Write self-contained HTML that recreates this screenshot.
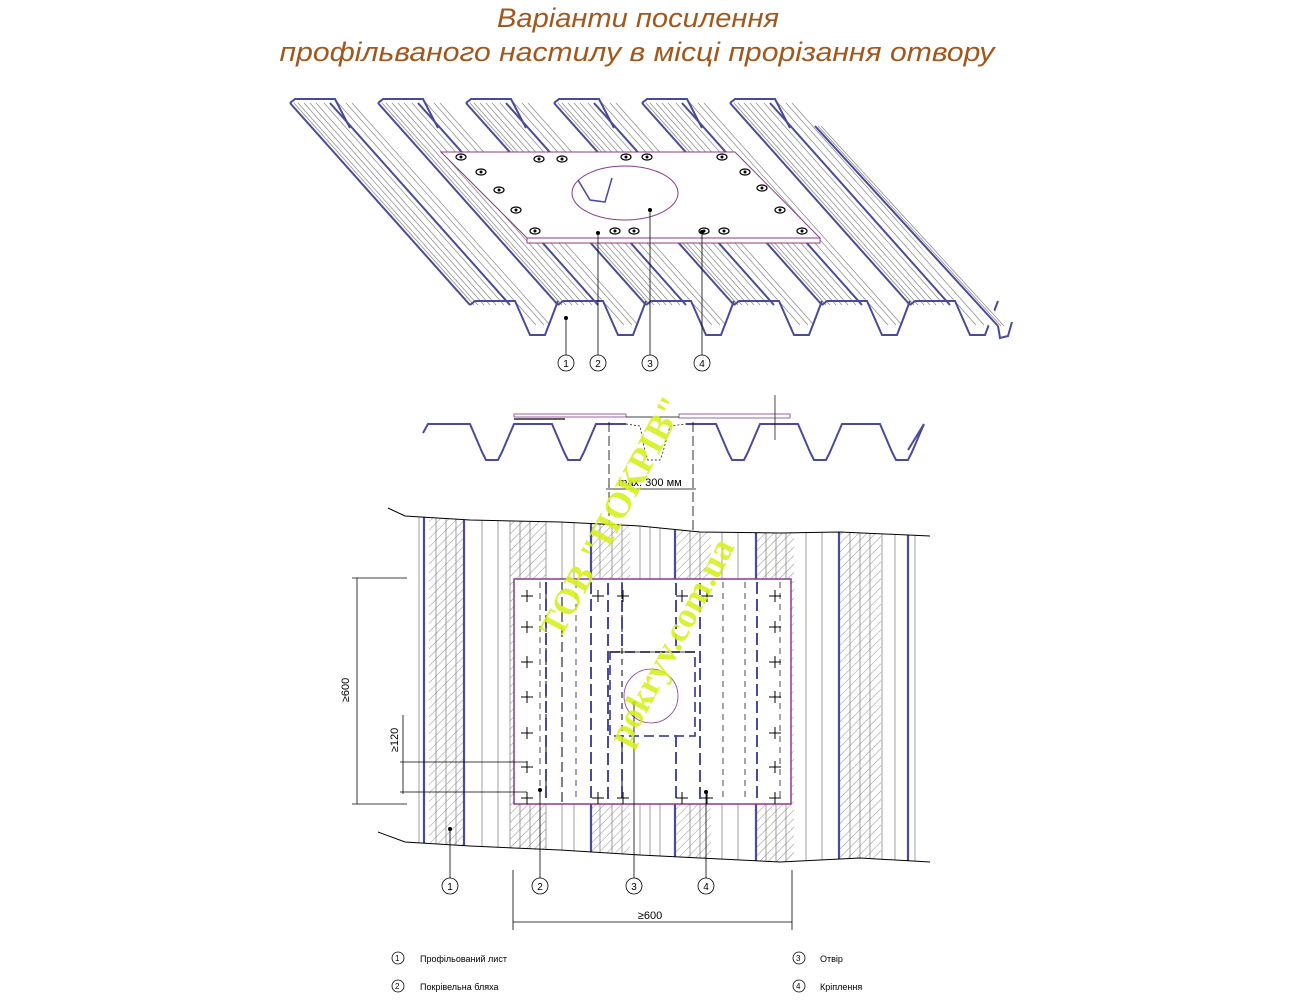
<!DOCTYPE html>
<html><head><meta charset="utf-8"><style>
html,body{margin:0;padding:0;background:#fff;}
svg{display:block;}
.t{font-family:"Liberation Sans",sans-serif;}
</style></head><body>
<svg id="s" width="1302" height="1006" viewBox="0 0 1302 1006" xmlns="http://www.w3.org/2000/svg">
<defs>
<pattern id="h" width="6" height="6" patternUnits="userSpaceOnUse" patternTransform="rotate(45)">
<line x1="0" y1="0" x2="0" y2="6" stroke="#777" stroke-width="0.8"/>
</pattern>
</defs>
<text class="t" x="638" y="27" font-size="27" fill="#a0581e" text-anchor="middle" font-style="italic" textLength="282" lengthAdjust="spacingAndGlyphs">Варіанти посилення</text>
<text class="t" x="637" y="61" font-size="27" fill="#a0581e" text-anchor="middle" font-style="italic" textLength="715" lengthAdjust="spacingAndGlyphs">профільваного настилу в місці прорізання отвору</text>
<g id="iso"></g>
<g id="sec"></g>
<g id="plan"></g>
<g class="t" font-size="11" fill="#000" text-anchor="middle">
<text x="650" y="486" font-size="11">max. 300 мм</text>
<text x="650" y="919">≥600</text>
<text transform="translate(349,690) rotate(-90)">≥600</text>
<text transform="translate(398,740) rotate(-90)">≥120</text>
</g>
<g class="t" font-size="9" fill="#000">
<circle cx="398" cy="958" r="6" fill="none" stroke="#000" stroke-width="0.8"/><text x="395" y="961" font-size="8">1</text>
<text x="420" y="962">Профільований лист</text>
<circle cx="398" cy="986" r="6" fill="none" stroke="#000" stroke-width="0.8"/><text x="395" y="989" font-size="8">2</text>
<text x="420" y="990">Покрівельна бляха</text>
<circle cx="799" cy="958" r="6" fill="none" stroke="#000" stroke-width="0.8"/><text x="796" y="961" font-size="8">3</text>
<text x="820" y="962">Отвір</text>
<circle cx="799" cy="986" r="6" fill="none" stroke="#000" stroke-width="0.8"/><text x="796" y="989" font-size="8">4</text>
<text x="820" y="990">Кріплення</text>
</g>
<g id="callouts" class="t" font-size="10" text-anchor="middle"></g>
<g font-family="Liberation Serif,serif" font-size="36" font-weight="bold" fill="#d8f020" opacity="0.9">
<text transform="translate(560,640) rotate(-62)">ТОВ "ПОКРІВ"</text>
<text transform="translate(628,748) rotate(-62)">pokryv.com.ua</text>
</g>
</svg>
<script>
(function(){
const NS="http://www.w3.org/2000/svg";
function el(p,t,a){const e=document.createElementNS(NS,t);for(const k in a)e.setAttribute(k,a[k]);p.appendChild(e);return e;}
const B="#4a4a9a",P="#8a3a8a";
const iso=document.getElementById('iso');
for(let i=5;i>=0;i--){
 const x0=290+88*i, y0=103, dx=180, dy=202;
 const offs=[0,4,8,14,20,26,34,40,48,56,62];
 el(iso,'polygon',{points:`${x0},${y0} ${x0+62},${y0} ${x0+62+dx+40},${y0+dy+33} ${x0+dx},${y0+dy}`,fill:'#fff'});
 offs.forEach((o,j)=>{
  el(iso,'line',{x1:x0+o,y1:y0,x2:x0+o+dx+(o>40?18:0),y2:y0+dy+(o>40?20:0),stroke:(j==0||j==7)?B:'#888','stroke-width':(j==0||j==7)?2:0.7});
 });
 const ex=x0+dx, ey=y0+dy;
 el(iso,'polyline',{points:`${ex},${ey} ${ex+5},${ey-4} ${ex+45},${ey-4} ${ex+60},${ey+30} ${ex+75},${ey+30} ${ex+88},${ey-4}`,fill:'none',stroke:B,'stroke-width':2});
 el(iso,'polyline',{points:`${x0},${y0} ${x0+5},${y0-4} ${x0+45},${y0-4} ${x0+60},${y0+25}`,fill:'none',stroke:B,'stroke-width':2});
}
el(iso,'polygon',{points:"815,126 824,126 1012,330 1006,340 998,336",fill:'#fff'});
[0,3,6].forEach((o,j)=>el(iso,'line',{x1:815+o,y1:126,x2:998+o,y2:326,stroke:j==0?B:'#888','stroke-width':j==0?2:0.7}));
el(iso,'polyline',{points:"998,326 1000,338 1008,336 1012,322",fill:'none',stroke:B,'stroke-width':2});
el(iso,'polygon',{points:"441,152 735,152 820,238 527,238",fill:'#fff',stroke:P,'stroke-width':1});
el(iso,'polygon',{points:"527,238 820,238 820,243 527,243",fill:'#fff',stroke:P,'stroke-width':1});
el(iso,'ellipse',{cx:625,cy:193,rx:53,ry:27,fill:'#fff',stroke:P,'stroke-width':1});
el(iso,'polyline',{points:"578,180 590,200 605,202 612,178",fill:'none',stroke:B,'stroke-width':1.5});
[[461,157],[539,159],[562,159],[626,157],[647,157],[722,157],[481,172],[745,172],[499,190],[762,188],[516,210],[780,210],[535,231],[615,231],[634,231],[704,231],[724,231],[802,231]].forEach(p=>{
 el(iso,'ellipse',{cx:p[0],cy:p[1],rx:5,ry:3,fill:'#fff',stroke:'#000','stroke-width':1.2});
 el(iso,'circle',{cx:p[0],cy:p[1],r:1.5,fill:'#000'});
});
const sec=document.getElementById('sec');
let pts="423,433 428,424 ";
for(let k=0;k<6;k++){const c=450+82*k;pts+=`${c+12},424 ${c+20},424 ${c+32},452 ${c+36},460 ${c+48},460 ${c+52},452 ${c+64},424 `;}
pts+="908,450";
el(sec,'polyline',{points:pts,fill:'none',stroke:B,'stroke-width':2});
el(sec,'rect',{x:626,y:420,width:60,height:42,fill:'#fff'});
el(sec,'polyline',{points:"626,424 640,426 645,452 648,460 660,460 663,452 670,426 686,424",fill:'none',stroke:'#000','stroke-width':0.7,'stroke-dasharray':'2 2'});
el(sec,'rect',{x:514,y:414,width:112,height:3,fill:'#fff',stroke:P,'stroke-width':0.8});
el(sec,'line',{x1:514,y1:419,x2:565,y2:419,stroke:'#000','stroke-width':1.2});
el(sec,'rect',{x:679,y:414,width:111,height:4,fill:'#fff',stroke:P,'stroke-width':0.8});
el(sec,'line',{x1:626,y1:417,x2:679,y2:417,stroke:'#000','stroke-width':0.7});
el(sec,'line',{x1:775,y1:395,x2:775,y2:440,stroke:'#000','stroke-width':0.7});
[609,693].forEach(x=>el(sec,'line',{x1:x,y1:422,x2:x,y2:580,stroke:'#000','stroke-width':0.8,'stroke-dasharray':'10 4'}));
el(sec,'line',{x1:606,y1:489,x2:696,y2:489,stroke:'#000','stroke-width':0.8});
const pl=document.getElementById('plan');
const shape="M405,516 L470,520 L560,522 L640,526 L700,532 L780,533 L840,532 L930,536 L930,862 L860,858 L780,862 L700,858 L640,855 L560,850 L470,846 L405,842 Z";
el(pl,'path',{d:shape,fill:'#fff'});
const cp=el(pl,'clipPath',{id:'cp'});
el(cp,'path',{d:shape});
const g=el(pl,'g',{'clip-path':'url(#cp)'});
[[429,464],[510,546],[591,630],[675,711],[756,794],[839,881]].forEach(h=>el(g,'rect',{x:h[0],y:500,width:h[1]-h[0],height:380,fill:'url(#h)'}));
[424,464,591,675,756,839,908].forEach(x=>el(g,'line',{x1:x,y1:500,x2:x,y2:880,stroke:B,'stroke-width':2.2}));
[419,436,446,456,482,498,510,520,530,546,562,574,600,612,622,640,650,660,690,700,722,738,766,776,786,806,822,850,860,870,882,895,915].forEach(x=>el(g,'line',{x1:x,y1:500,x2:x,y2:880,stroke:'#777','stroke-width':0.7}));
el(pl,'path',{d:"M388,508 L405,516 L470,520 L560,522 L640,526 L700,532 L780,533 L840,532 L930,536",fill:'none',stroke:'#000','stroke-width':1});
el(pl,'path',{d:"M378,832 L405,842 L470,846 L560,850 L640,855 L700,858 L780,862 L860,858 L930,862",fill:'none',stroke:'#000','stroke-width':1});
el(pl,'rect',{x:514,y:579,width:277,height:225,fill:'#fff',stroke:P,'stroke-width':1.5});
[[546,6,'#000',1],[562,10,'#000',1],[591,12,B,2],[622,6,'#000',1],[540,6,'#000',0.7],[576,6,'#000',0.7],[757,12,B,2],[546,12,B,2],[780,6,'#000',0.7],[745,6,'#000',0.7],[723,6,'#000',0.7]].forEach(d=>el(pl,'line',{x1:d[0],y1:582,x2:d[0],y2:802,stroke:d[2],'stroke-width':d[3],'stroke-dasharray':d[1]+' 5'}));
[[622,583,650],[676,583,650],[622,735,802],[676,735,802],[700,583,802],[608,583,802]].forEach(d=>el(pl,'line',{x1:d[0],y1:d[1],x2:d[0],y2:d[2],stroke:B,'stroke-width':2,'stroke-dasharray':'12 5'}));
el(pl,'rect',{x:610,y:652,width:85,height:84,fill:'none',stroke:B,'stroke-width':1.8,'stroke-dasharray':'10 5'});
el(pl,'line',{x1:610,y1:652,x2:695,y2:652,stroke:'#000','stroke-width':0.8});
el(pl,'circle',{cx:651,cy:696,r:27,fill:'none',stroke:P,'stroke-width':0.8});
const rows=[596,627,662,697,733,767,798];
function cross(x,y){el(pl,'path',{d:`M${x-6},${y}H${x+6}M${x},${y-6}V${y+6}`,stroke:'#000','stroke-width':1});}
rows.forEach(y=>{cross(527,y);cross(775,y);});
[598,623,682,707].forEach(x=>{cross(x,596);cross(x,798);});
const D=(a)=>el(pl,'line',Object.assign({stroke:'#000','stroke-width':0.8},a));
D({x1:357,y1:578,x2:357,y2:804});D({x1:352,y1:578,x2:407,y2:578});D({x1:352,y1:804,x2:407,y2:804});
D({x1:403,y1:715,x2:403,y2:794});D({x1:400,y1:762,x2:527,y2:762});D({x1:400,y1:792,x2:527,y2:792});
D({x1:513,y1:870,x2:513,y2:930});D({x1:792,y1:870,x2:792,y2:930});D({x1:513,y1:922,x2:792,y2:922});
const co=document.getElementById('callouts');
function call(cx,cy,n,tx,ty){el(co,'line',{x1:cx,y1:cy-8,x2:tx,y2:ty,stroke:'#000','stroke-width':0.8});el(co,'circle',{cx:tx,cy:ty,r:2,fill:'#000'});el(co,'circle',{cx:cx,cy:cy,r:8,fill:'#fff',stroke:'#000','stroke-width':0.8});const t=el(co,'text',{x:cx,y:cy+4});t.textContent=n;}
call(566,363,'1',566,318);call(598,363,'2',598,233);call(650,363,'3',650,210);call(702,363,'4',702,232);
call(450,886,'1',450,829);call(540,886,'2',540,790);call(634,886,'3',634,703);call(706,886,'4',706,792);
})();
</script>
</body></html>
